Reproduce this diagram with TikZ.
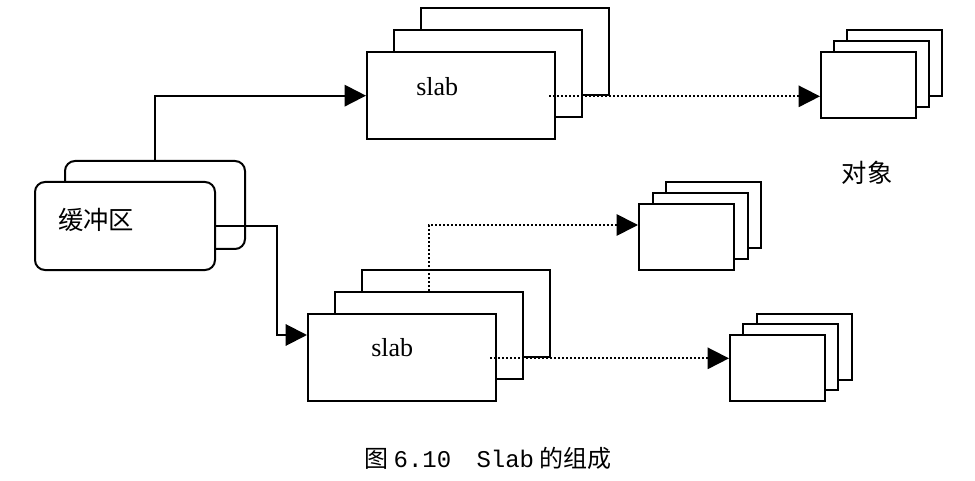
\documentclass[tikz,border=0pt]{standalone}
\usepackage{fontspec}
\setmainfont{Liberation Serif}
\newfontfamily\cjk{Noto Sans CJK SC}
\newfontfamily\monof{Liberation Mono}
\usetikzlibrary{arrows.meta,calc}
\begin{document}
\begin{tikzpicture}[x=0.75pt,y=-0.75pt,
  box/.style={draw, line width=1.5pt, fill=white, inner sep=0pt, anchor=north west},
  slabbox/.style={box, minimum width=141pt, minimum height=65.5pt},
  objbox/.style={box, minimum width=71.25pt, minimum height=49.5pt},
  bufbox/.style={box, rounded corners=7.5pt, minimum width=135pt, minimum height=66pt},
  conn/.style={line width=1.5pt, -{Triangle[length=16pt,width=16pt]}},
  dotconn/.style={line width=1.3pt, dash pattern=on 1.5pt off 1.5pt, -{Triangle[length=16pt,width=16pt]}},
  lbl/.style={inner sep=0pt, font=\fontsize{19.5}{22}\selectfont},
  cjklbl/.style={inner sep=0pt, font=\cjk\fontsize{19}{22}\selectfont}]
\useasboundingbox (0,0) rectangle (975,481);
% buffer
\node[bufbox] (bufB) at (64,160) {};
\node[bufbox] (bufF) at (34,181) {};
\node[cjklbl, anchor=west] (buftxt) at (58,220) {缓冲区};
% top slab stack
\node[slabbox] (slabT3) at (420,7) {};
\node[slabbox] (slabT2) at (393,29) {};
\node[slabbox] (slabT1) at (366,51) {};
\node[lbl, anchor=west] (slabTtxt) at (416,87) {slab};
% bottom slab stack
\node[slabbox] (slabB3) at (361,269) {};
\node[slabbox] (slabB2) at (334,291) {};
\node[slabbox] (slabB1) at (307,313) {};
\node[lbl, anchor=west] (slabBtxt) at (371,348) {slab};
% object stacks
\node[objbox] (objT3) at (846,29) {};
\node[objbox] (objT2) at (833,40) {};
\node[objbox] (objT1) at (820,51) {};
\node[objbox] (objM3) at (665,181) {};
\node[objbox] (objM2) at (652,192) {};
\node[objbox] (objM1) at (638,203) {};
\node[objbox] (objB3) at (756,313) {};
\node[objbox] (objB2) at (742,323) {};
\node[objbox] (objB1) at (729,334) {};
\node[cjklbl] (objtxt) at (867,173) {对象};
% connectors
\coordinate (b1) at ($(bufB.north west)+(91,0)$);
\draw[conn] (b1) |- (slabT1.west);
\coordinate (b2) at ($(slabB1.north west)+(0,22)$);
\draw[conn] (bufF.east) -- ++(61,0) |- (b2);
\coordinate (d1) at ($(slabT3.south east)+(-61,0)$);
\draw[dotconn] (d1) -- (d1 -| objT1.west);
\coordinate (d2) at ($(slabB3.south east)+(-61,0)$);
\draw[dotconn] (d2) -- (d2 -| objB1.west);
\coordinate (d3) at ($(objM1.north west)+(0,22)$);
\draw[dotconn] (slabB2.north) |- (d3);
% caption
\node[inner sep=0pt, anchor=west, font=\fontsize{18}{20}\selectfont] (cap) at (364,458)
  {{\cjk 图}\hspace{4pt}{\monof 6.10}\hspace{19pt}{\monof Slab}\hspace{4pt}{\cjk 的组成}};
\end{tikzpicture}
\end{document}
